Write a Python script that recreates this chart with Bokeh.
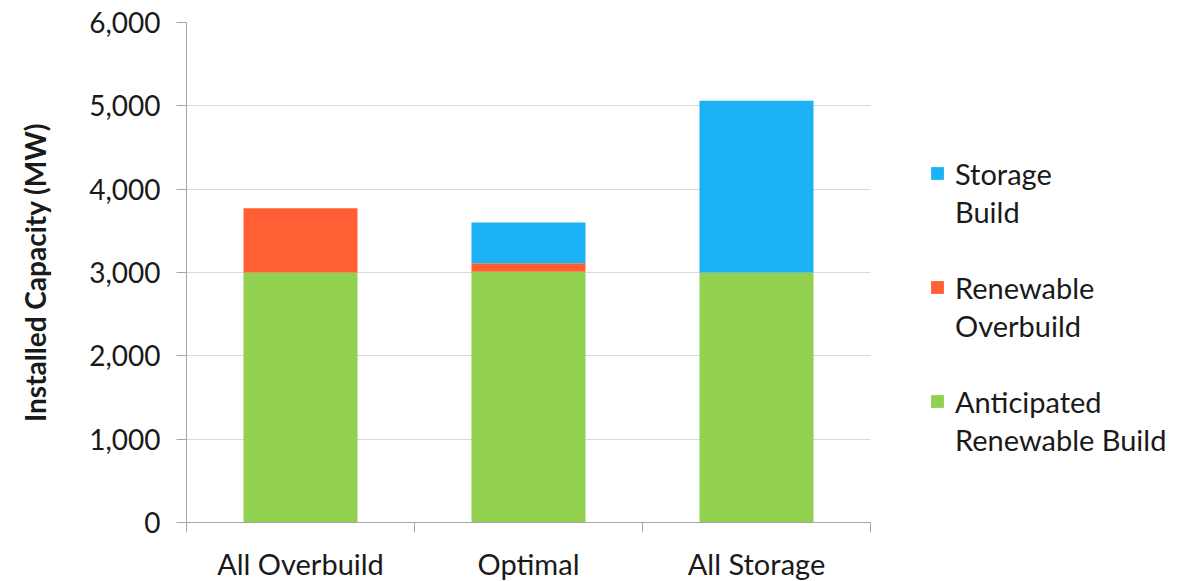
from bokeh.plotting import figure
from bokeh.models import (FixedTicker, NumeralTickFormatter, Legend, LegendItem,
                          ColumnDataSource, Range1d)
from bokeh.embed import file_html
from bokeh.resources import INLINE

categories = ["All Overbuild", "Optimal", "All Storage"]
anticipated = [3000, 3010, 3000]
overbuild = [770, 100, 0]
storage = [0, 490, 2060]
# legend text, top to bottom: (first line, second line) per series
legend_lines = [("Storage", "Build"), ("Renewable", "Overbuild"), ("Anticipated", "Renewable Build")]
colors = ["#92D050", "#FF5F33", "#1BB2F5"]
y_ticks = [0, 1000, 2000, 3000, 4000, 5000, 6000]

FONT = "Lato"
TXT = "#1a1a1a"
x_pos = [i + 0.5 for i in range(len(categories))]
src = ColumnDataSource(dict(x=x_pos, a=anticipated, o=overbuild, s=storage))

p = figure(frame_width=684, frame_height=500, output_backend="svg", toolbar_location=None,
           x_range=Range1d(0, len(categories)), y_range=Range1d(0, 6000),
           min_border_left=186, min_border_top=22, min_border_bottom=20, min_border_right=292)
p.outline_line_color = None
p.background_fill_color = "white"

rs = p.vbar_stack(["a", "o", "s"], x="x", width=0.5, source=src, color=colors, line_color=None)
# invisible renderer used for legend rows that carry only text (second lines, gaps)
blank = p.scatter(x=[], y=[], size=0, fill_alpha=0, line_alpha=0)

items = []
for k, (first, second) in zip([2, 1, 0], legend_lines):
    items.append(LegendItem(label=first, renderers=[rs[k]]))
    items.append(LegendItem(label=second, renderers=[blank]))
    if k != 0:
        items.append(LegendItem(label=" ", renderers=[blank]))

legend = Legend(items=items, location=(59, 64), orientation="vertical")
legend.border_line_color = None
legend.background_fill_alpha = 0
legend.label_text_font = FONT
legend.label_text_font_size = "29px"
legend.label_text_color = TXT
legend.label_height = 38
legend.glyph_width = 16
legend.glyph_height = 16
legend.label_standoff = 10
legend.spacing = 0
legend.padding = 0
legend.margin = 0
p.add_layout(legend, "right")

# y axis
p.yaxis.ticker = FixedTicker(ticks=y_ticks)
p.yaxis.formatter = NumeralTickFormatter(format="0,0")
p.yaxis.major_label_text_font = FONT
p.yaxis.major_label_text_font_size = "28px"
p.yaxis.major_label_text_color = TXT
p.yaxis.axis_line_color = "#A6A6A6"
p.yaxis.major_tick_line_color = "#A6A6A6"
p.yaxis.major_tick_out = 10
p.yaxis.major_tick_in = 0
p.yaxis.minor_tick_line_color = None
p.yaxis.major_label_standoff = 16
p.yaxis.axis_label = "Installed Capacity (MW)"
p.yaxis.axis_label_text_font = FONT
p.yaxis.axis_label_text_font_style = "bold"
p.yaxis.axis_label_text_font_size = "28px"
p.yaxis.axis_label_text_color = TXT
p.yaxis.axis_label_standoff = 34

# x axis
p.xaxis.ticker = FixedTicker(ticks=x_pos, minor_ticks=list(range(len(categories) + 1)))
p.xaxis.major_label_overrides = {x: c for x, c in zip(x_pos, categories)}
p.xaxis.major_label_text_font = FONT
p.xaxis.major_label_text_font_size = "29px"
p.xaxis.major_label_text_color = TXT
p.xaxis.axis_line_color = "#A6A6A6"
p.xaxis.major_tick_line_color = None
p.xaxis.major_tick_out = 0
p.xaxis.minor_tick_line_color = "#A6A6A6"
p.xaxis.minor_tick_out = 10
p.xaxis.minor_tick_in = 0
p.xaxis.major_label_standoff = 13

p.xgrid.grid_line_color = None
p.ygrid.ticker = FixedTicker(ticks=y_ticks)
p.ygrid.grid_line_color = "#D9D9D9"

open("out.html", "w").write(file_html(p, INLINE))
